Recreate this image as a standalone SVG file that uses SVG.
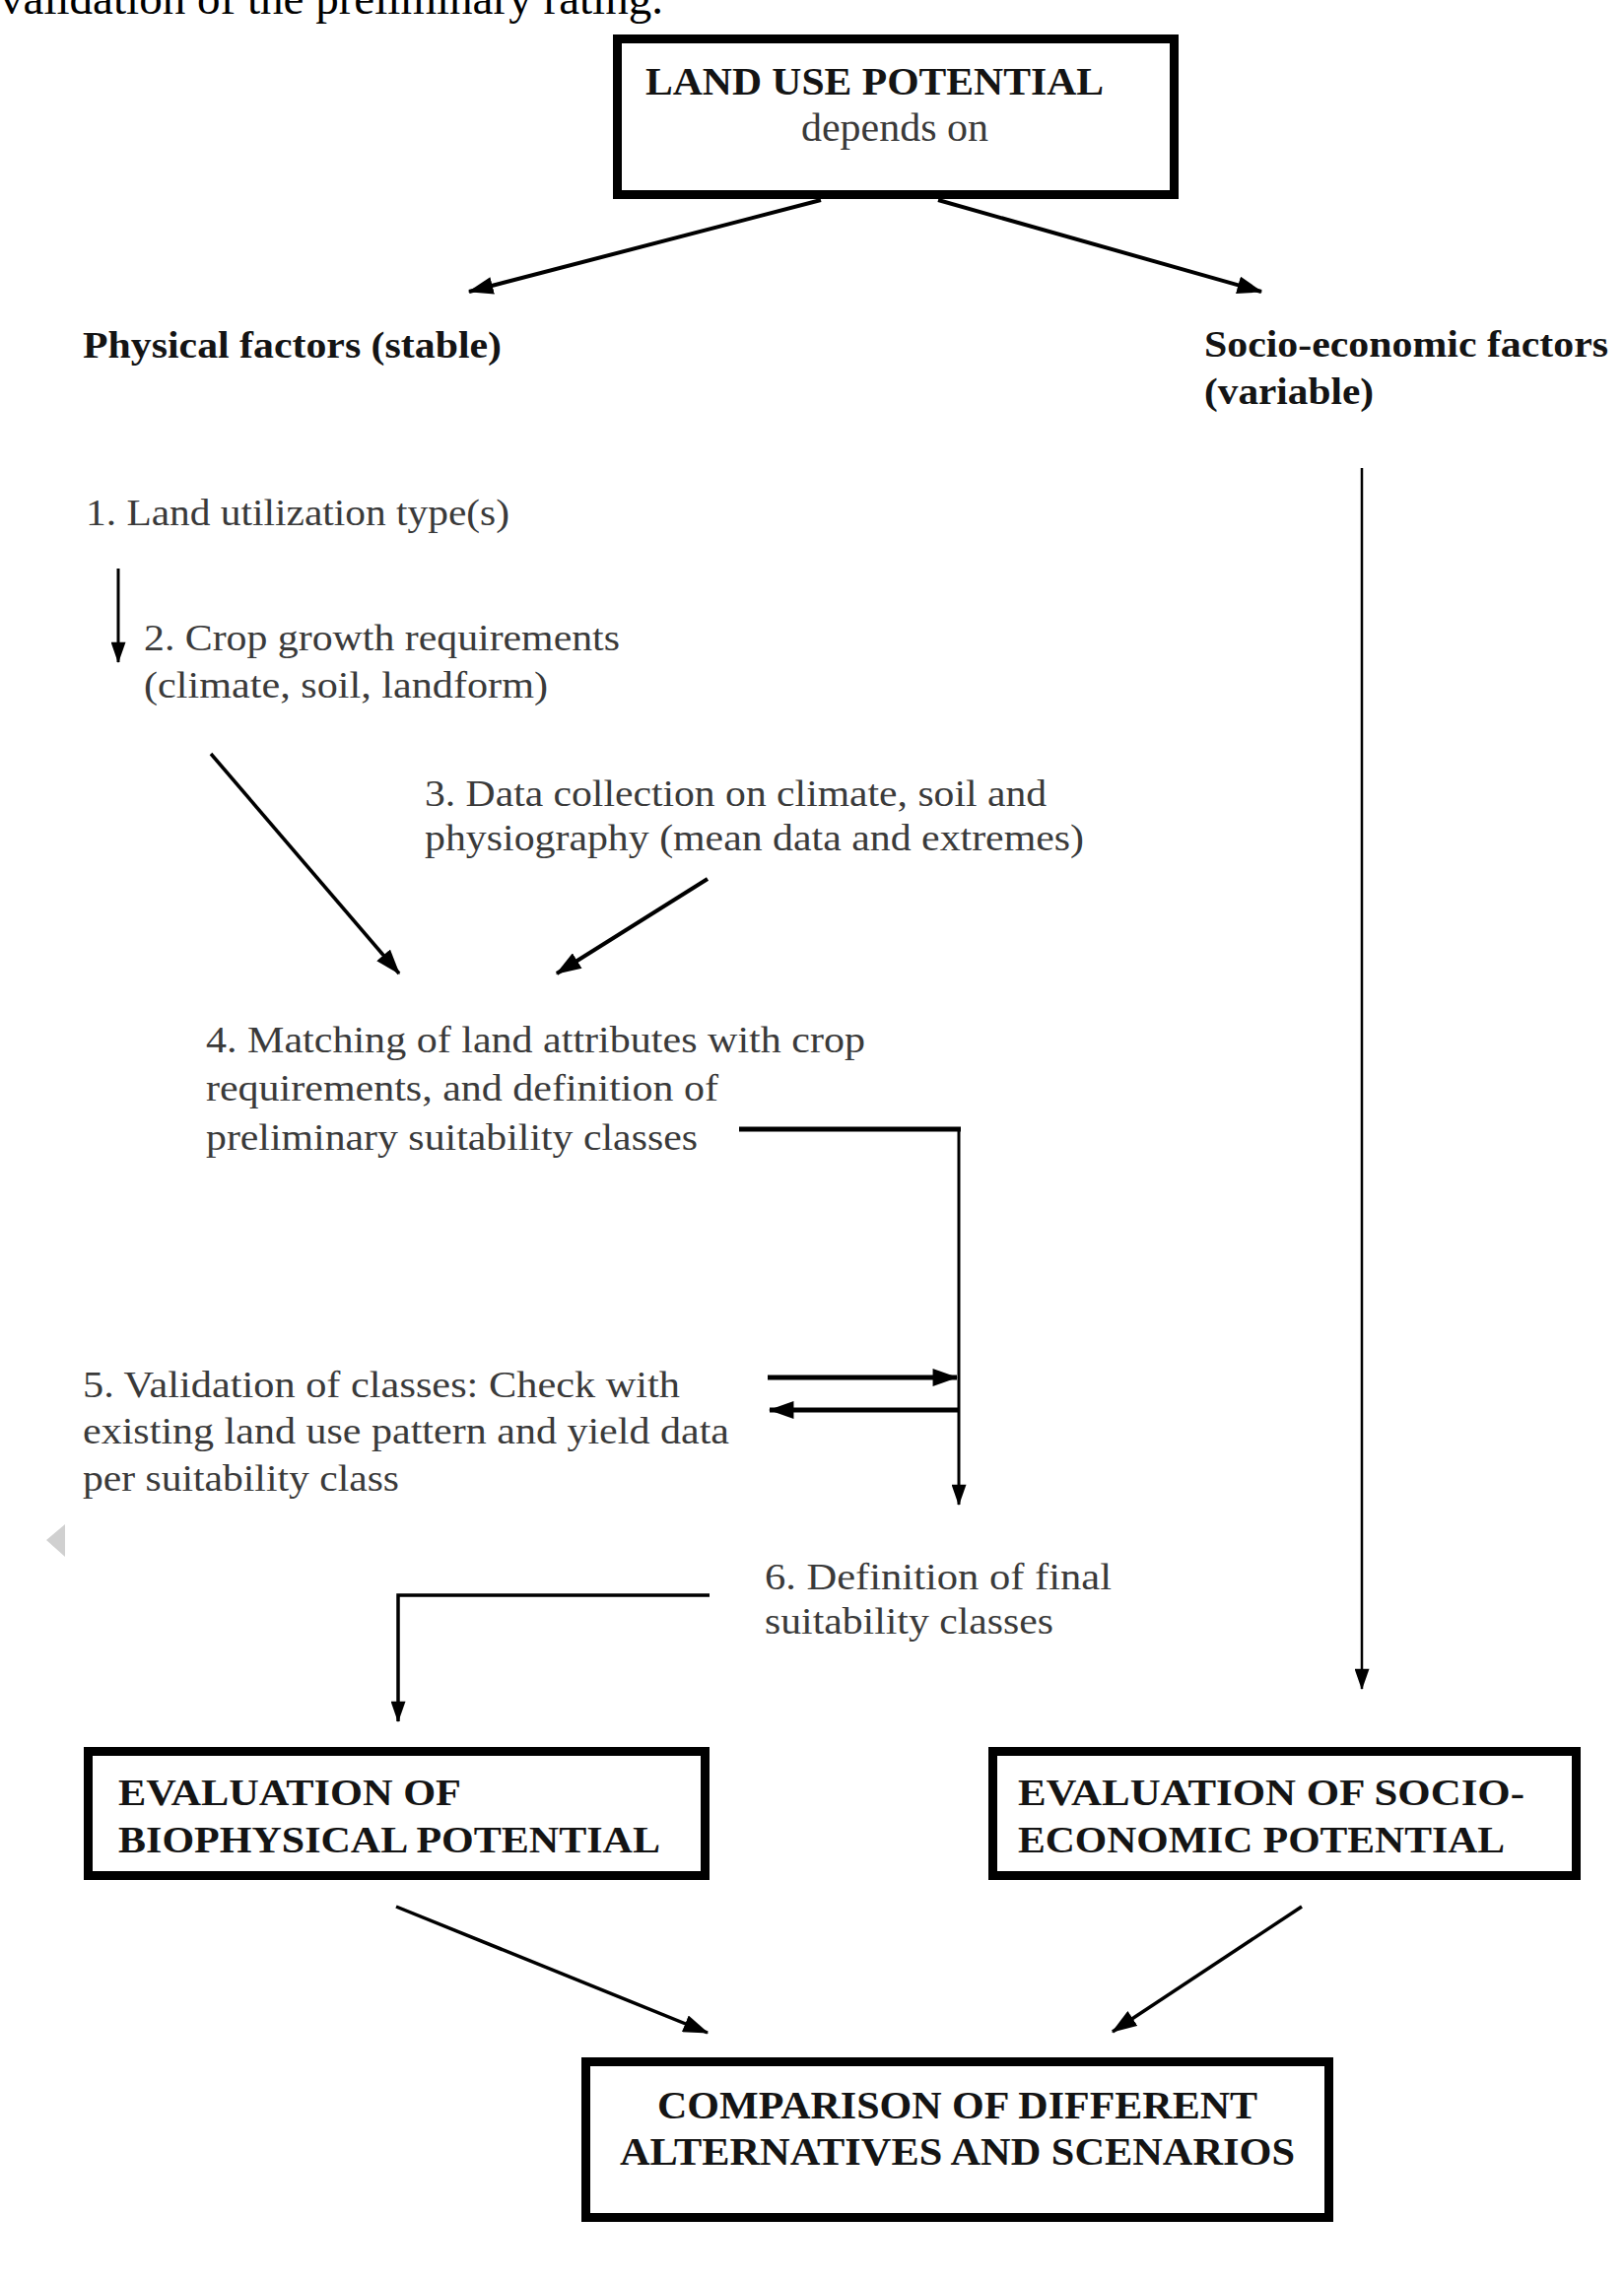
<svg xmlns="http://www.w3.org/2000/svg" width="1648" height="2316" viewBox="0 0 1648 2316">
<style>
.reg{font-family:"Liberation Serif","Times New Roman",serif;font-size:37px;fill:#3a3a3a}
.bold{font-family:"Liberation Serif","Times New Roman",serif;font-size:37px;font-weight:bold;fill:#141414}
.box{fill:#fff;stroke:#000;stroke-width:9}
.ln{fill:none;stroke:#000}
</style>
<defs>
<marker id="ah" viewBox="0 0 20 14" refX="19" refY="7" markerWidth="26" markerHeight="18" markerUnits="userSpaceOnUse" orient="auto">
<path d="M0,0 L20,7 L0,14 z" fill="#000"/>
</marker>
<marker id="ahs" viewBox="0 0 20 14" refX="19" refY="7" markerWidth="22" markerHeight="15" markerUnits="userSpaceOnUse" orient="auto">
<path d="M0,0 L20,7 L0,14 z" fill="#000"/>
</marker>
</defs>
<rect width="1648" height="2316" fill="#fff"/>
<text class="reg" x="0" y="14" style="font-size:46px;fill:#000" textLength="673" lengthAdjust="spacingAndGlyphs">validation of the preliminary rating.</text>
<polygon points="47,1563 66,1547 66,1580" fill="#d0d0d0"/>

<g id="connectors">
<line class="ln" x1="833" y1="203" x2="476" y2="296" stroke-width="4" marker-end="url(#ah)"/>
<line class="ln" x1="952" y1="203" x2="1280" y2="296" stroke-width="4" marker-end="url(#ah)"/>
<line class="ln" x1="1382" y1="475" x2="1382" y2="1714" stroke-width="2.5" marker-end="url(#ahs)"/>
<line class="ln" x1="120" y1="577" x2="120" y2="672" stroke-width="3" marker-end="url(#ahs)"/>
<line class="ln" x1="214" y1="765" x2="405" y2="988" stroke-width="3.5" marker-end="url(#ah)"/>
<line class="ln" x1="718" y1="892" x2="565" y2="988" stroke-width="4" marker-end="url(#ah)"/>
<line class="ln" x1="750" y1="1146" x2="975" y2="1146" stroke-width="5"/>
<line class="ln" x1="973" y1="1144" x2="973" y2="1527" stroke-width="3" marker-end="url(#ahs)"/>
<line class="ln" x1="779" y1="1398" x2="971" y2="1398" stroke-width="5" marker-end="url(#ah)"/>
<line class="ln" x1="973" y1="1431" x2="781" y2="1431" stroke-width="5" marker-end="url(#ah)"/>
<path class="ln" d="M720,1619 H404 V1747" stroke-width="3.5" marker-end="url(#ahs)"/>
<line class="ln" x1="402" y1="1935" x2="718" y2="2063" stroke-width="3.5" marker-end="url(#ah)"/>
<line class="ln" x1="1321" y1="1935" x2="1129" y2="2062" stroke-width="3.5" marker-end="url(#ah)"/>
</g>

<g id="land-use-potential">
<rect class="box" x="626.5" y="39.5" width="565" height="158"/>
<text class="bold" x="655" y="96" style="font-size:41px" textLength="465" lengthAdjust="spacingAndGlyphs">LAND USE POTENTIAL</text>
<text class="reg" x="813" y="143" style="font-size:41px" textLength="190" lengthAdjust="spacingAndGlyphs">depends on</text>
</g>

<g id="physical-factors">
<text class="bold" x="84" y="363" textLength="425" lengthAdjust="spacingAndGlyphs">Physical factors (stable)</text>
</g>

<g id="socio-economic-factors">
<text class="bold" x="1222" y="362" textLength="410" lengthAdjust="spacingAndGlyphs">Socio-economic factors</text>
<text class="bold" x="1222" y="410" textLength="172" lengthAdjust="spacingAndGlyphs">(variable)</text>
</g>

<g id="step1">
<text class="reg" x="87" y="533" textLength="430" lengthAdjust="spacingAndGlyphs">1. Land utilization type(s)</text>
</g>

<g id="step2">
<text class="reg" x="146" y="660" textLength="483" lengthAdjust="spacingAndGlyphs">2. Crop growth requirements</text>
<text class="reg" x="146" y="708" textLength="410" lengthAdjust="spacingAndGlyphs">(climate, soil, landform)</text>
</g>

<g id="step3">
<text class="reg" x="431" y="818" textLength="631" lengthAdjust="spacingAndGlyphs">3. Data collection on climate, soil and</text>
<text class="reg" x="431" y="863" textLength="669" lengthAdjust="spacingAndGlyphs">physiography (mean data and extremes)</text>
</g>

<g id="step4">
<text class="reg" x="209" y="1068" textLength="669" lengthAdjust="spacingAndGlyphs">4. Matching of land attributes with crop</text>
<text class="reg" x="209" y="1117" textLength="520" lengthAdjust="spacingAndGlyphs">requirements, and definition of</text>
<text class="reg" x="209" y="1167" textLength="499" lengthAdjust="spacingAndGlyphs">preliminary suitability classes</text>
</g>

<g id="step5">
<text class="reg" x="84" y="1418" textLength="606" lengthAdjust="spacingAndGlyphs">5. Validation of classes: Check with</text>
<text class="reg" x="84" y="1465" textLength="656" lengthAdjust="spacingAndGlyphs">existing land use pattern and yield data</text>
<text class="reg" x="84" y="1513" textLength="321" lengthAdjust="spacingAndGlyphs">per suitability class</text>
</g>

<g id="step6">
<text class="reg" x="776" y="1613" textLength="352" lengthAdjust="spacingAndGlyphs">6. Definition of final</text>
<text class="reg" x="776" y="1658" textLength="293" lengthAdjust="spacingAndGlyphs">suitability classes</text>
</g>

<g id="biophysical-potential">
<rect class="box" x="89.5" y="1777.5" width="626" height="126"/>
<text class="bold" x="120" y="1832" textLength="348" lengthAdjust="spacingAndGlyphs">EVALUATION OF</text>
<text class="bold" x="120" y="1880" textLength="550" lengthAdjust="spacingAndGlyphs">BIOPHYSICAL POTENTIAL</text>
</g>

<g id="socio-economic-potential">
<rect class="box" x="1007.5" y="1777.5" width="592" height="126"/>
<text class="bold" x="1033" y="1832" textLength="514" lengthAdjust="spacingAndGlyphs">EVALUATION OF SOCIO-</text>
<text class="bold" x="1033" y="1880" textLength="494" lengthAdjust="spacingAndGlyphs">ECONOMIC POTENTIAL</text>
</g>

<g id="comparison">
<rect class="box" x="594.5" y="2092.5" width="754" height="158"/>
<text class="bold" x="667" y="2150" style="font-size:39px" textLength="609" lengthAdjust="spacingAndGlyphs">COMPARISON OF DIFFERENT</text>
<text class="bold" x="629" y="2197" style="font-size:39px" textLength="685" lengthAdjust="spacingAndGlyphs">ALTERNATIVES AND SCENARIOS</text>
</g>
</svg>
